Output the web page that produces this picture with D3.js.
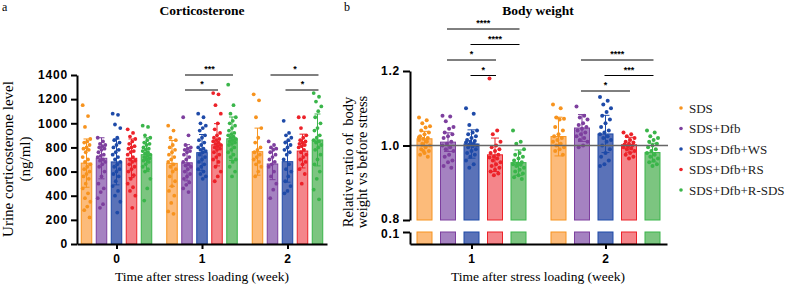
<!DOCTYPE html>
<html><head><meta charset="utf-8">
<script src="https://cdn.jsdelivr.net/npm/d3@7"></script>
<style>body{margin:0;background:#fff}svg{display:block}</style>
</head><body>
<svg id="c" width="788" height="285"></svg>
<script>
// ---------- DATA ----------
const series = ["SDS","SDS+Dfb","SDS+Dfb+WS","SDS+Dfb+RS","SDS+Dfb+R-SDS"];
const dotColors = ["#F7931E","#7D3F9E","#1E4AA8","#EC2229","#3AB54A"];
const barColors = ["#FCBB7A","#A582C1","#5A72B8","#F4858A","#7CC580"];

// Panel a: corticosterone
const weeksA = ["0","1","2"];
const corticoMean = [[670,710,680,710,740],[668,673,757,822,872],[765,663,682,770,862]];
const corticoSD   = [[200,170,190,160,140],[190,150,150,175,180],[195,130,170,140,215]];
const corticoTicks = [0,200,400,600,800,1000,1200,1400];
const corticoDots = [
 [[1150,1060,970,870,850,840,820,800,790,780,760,720,700,680,660,640,620,600,580,560,540,500,460,420,380,350,310,280,220],
  [880,850,830,820,810,800,790,780,760,740,730,720,700,690,680,660,640,600,560,500,460,430,380,330,300],
  [1080,1070,990,960,880,860,840,820,800,780,760,740,720,700,680,660,640,620,600,580,560,520,480,440,400,350,260],
  [950,920,890,870,850,830,810,800,790,770,760,740,720,700,690,680,660,640,620,600,570,540,500,470,440,400,300],
  [980,970,900,880,860,840,830,820,800,790,780,770,760,750,740,730,720,710,700,690,680,660,640,620,600,540,460,360]],
 [[980,940,880,860,820,800,780,760,740,720,700,680,660,640,620,600,560,520,480,440,400,340,270,250],
  [1050,900,820,800,790,780,770,760,740,720,700,680,660,650,640,620,600,580,560,540,510,490,460,430],
  [1080,1050,1000,980,960,940,900,880,860,840,820,800,790,780,770,760,740,720,700,680,660,640,620,600,580,560,540],
  [1250,1240,1150,1080,1000,950,920,900,880,870,860,850,840,830,820,810,800,790,780,760,740,720,700,680,640,600,560,520],
  [1320,1150,1080,1050,1020,1000,980,960,940,920,910,900,890,880,870,860,850,840,830,820,800,780,760,740,720,700,680,640,600,560]],
 [[1240,1190,1050,960,880,840,800,780,760,740,720,700,680,660,640,600,560],
  [850,820,800,790,780,760,740,720,700,680,660,640,600,560,500,450,380],
  [1020,920,900,880,860,840,820,800,780,760,740,700,660,620,600,560,520,480,440,420],
  [1050,1050,960,900,880,860,850,840,830,820,810,800,780,760,740,720,700,680,660,620,580,500],
  [1250,1220,1180,1140,1100,1050,1000,960,940,900,880,860,850,840,820,800,780,740,700,660,600,540,450,370]]
];
const sigA = [ // [week, fromSeries, toSeries, label, level]
 ["1",1,4,"***",0],["1",1,3,"*",1],["2",1,4,"*",0],["2",2,4,"*",1]
];

// Panel b: body weight
const weeksB = ["1","2"];
const bwMean = [[1.018,1.009,1.004,0.975,0.954],[1.024,1.047,1.031,1.002,0.981]];
const bwSD   = [[0.020,0.025,0.038,0.045,0.034],[0.052,0.036,0.050,0.020,0.025]];
const bwTicks = [0.8,1.0,1.2];
const bwLowTicks = [0.1];
const bwDots = [
 [[1.075,1.068,1.060,1.052,1.048,1.040,1.035,1.030,1.025,1.020,1.018,1.015,1.010,1.005,1.000,0.995,0.990,0.985,0.980,0.975,0.970,0.985,1.022,1.012],
  [1.080,1.078,1.065,1.050,1.045,1.035,1.030,1.025,1.020,1.010,1.005,1.000,0.995,0.990,0.985,0.975,0.970,0.960,0.955,0.945,0.940],
  [1.100,1.085,1.055,1.040,1.035,1.030,1.025,1.020,1.015,1.012,1.010,1.008,1.005,1.002,1.000,0.998,0.995,0.990,0.985,0.980,0.975,0.970,0.960,0.950,0.940],
  [1.180,1.040,1.030,1.010,1.000,0.995,0.990,0.985,0.980,0.975,0.970,0.968,0.965,0.960,0.955,0.950,0.945,0.940,0.935,0.930,0.925,0.920],
  [1.040,1.010,1.005,0.990,0.980,0.975,0.970,0.965,0.960,0.955,0.952,0.950,0.948,0.945,0.940,0.935,0.930,0.925,0.920,0.915,0.910]],
 [[1.110,1.100,1.075,1.072,1.070,1.050,1.040,1.030,1.025,1.020,1.015,1.010,1.005,1.000,0.995,0.990,0.985,0.975],
  [1.105,1.080,1.075,1.070,1.060,1.055,1.050,1.045,1.040,1.035,1.030,1.025,1.020,1.015,1.010,1.000,0.995],
  [1.130,1.120,1.110,1.100,1.090,1.080,1.070,1.060,1.050,1.040,1.035,1.030,1.025,1.020,1.015,1.010,1.000,0.990,0.980,0.970,0.960,0.950,0.945],
  [1.035,1.030,1.025,1.020,1.015,1.010,1.008,1.005,1.003,1.000,0.998,0.995,0.992,0.990,0.985,0.980,0.975,0.970,0.965],
  [1.040,1.035,1.025,1.020,1.015,1.010,1.005,1.000,0.995,0.990,0.985,0.980,0.975,0.970,0.965,0.960,0.955,0.950,0.945]]
];
const sigB = [
 ["1",1,4,"****",0],["1",2,4,"****",1],["1",1,3,"*",2],["1",2,3,"*",3],
 ["2",1,4,"****",2],["2",2,4,"***",3],["2",1,3,"*",4]
];

// ---------- DRAW ----------
const svg = d3.select("#c");
const serif = "'Liberation Serif','Times New Roman',serif";
const sans = "'Liberation Sans',Arial,sans-serif";

function jitter(i, half){ return (((i*7)%11)-5)/5*half; }

function styleAxis(g){
  g.selectAll("path.domain").attr("stroke","#000").attr("stroke-width",2);
  g.selectAll(".tick line").attr("stroke","#000").attr("stroke-width",2);
  g.selectAll(".tick text").attr("font-family",sans).attr("font-weight","bold")
   .attr("font-size",12).attr("fill","#000").attr("letter-spacing",0.8);
}

// ===== Panel a =====
{
  const x = d3.scalePoint().domain(weeksA).range([77,327]).padding(0.462);
  const sx = d3.scalePoint().domain(d3.range(5)).range([-30,30]);
  const y = d3.scaleLinear().domain([0,1400]).range([244,75]);
  const bw = 10.5;
  const g = svg.append("g");
  weeksA.forEach((w,wi)=>{
    series.forEach((s,si)=>{
      const cx = x(w)+sx(si);
      g.append("rect").attr("x",cx-bw/2).attr("width",bw)
       .attr("y",y(corticoMean[wi][si])).attr("height",y(0)-y(corticoMean[wi][si]))
       .attr("fill",barColors[si]).attr("stroke",dotColors[si]).attr("stroke-width",1);
      corticoDots[wi][si].forEach((v,i)=>{
        g.append("circle").attr("cx",cx+jitter(i,3.8)).attr("cy",y(v)).attr("r",1.9)
         .attr("fill",dotColors[si]);
      });
      const m=corticoMean[wi][si], sd=corticoSD[wi][si];
      g.append("line").attr("x1",cx).attr("x2",cx).attr("y1",y(m+sd)).attr("y2",y(Math.max(0,m-sd)))
       .attr("stroke",dotColors[si]).attr("stroke-width",1);
      [m+sd,m-sd].forEach(v=>g.append("line").attr("x1",cx-3).attr("x2",cx+3).attr("y1",y(v)).attr("y2",y(v))
        .attr("stroke",dotColors[si]).attr("stroke-width",1));
    });
  });
  const ya = svg.append("g").attr("transform","translate(77,0)")
    .call(d3.axisLeft(y).tickValues(corticoTicks).tickFormat(d3.format("d")).tickSize(6).tickSizeOuter(0).tickPadding(3));
  styleAxis(ya);
  const xa = svg.append("g").attr("transform","translate(0,244)")
    .call(d3.axisBottom(x).tickSize(5).tickSizeOuter(0).tickPadding(5));
  styleAxis(xa);
  sigA.forEach(([w,a,b,lab,lvl])=>{
    const yy = 75 + lvl*15;
    g.append("line").attr("x1",x(w)+sx(a)-2).attr("x2",x(w)+sx(b)+1).attr("y1",yy).attr("y2",yy)
     .attr("stroke","#000").attr("stroke-width",1);
    g.append("text").attr("x",(x(w)+sx(a)+x(w)+sx(b))/2).attr("y",yy-3).attr("text-anchor","middle")
     .attr("font-family",sans).attr("font-weight","bold").attr("font-size",9).text(lab);
  });
  svg.append("text").attr("x",202).attr("y",15).attr("text-anchor","middle").attr("font-family",serif)
    .attr("font-weight","bold").attr("font-size",13.5).text("Corticosterone");
  svg.append("text").attr("x",2).attr("y",11).attr("font-family",serif).attr("font-size",12).text("a");
  const lab = svg.append("g").attr("transform","translate(0,159) rotate(-90)")
    .attr("font-family",serif).attr("font-size",15).attr("text-anchor","middle");
  lab.append("text").attr("x",0).attr("y",13).text("Urine corticosterone level");
  lab.append("text").attr("x",0).attr("y",30).text("(ng/ml)");
  svg.append("text").attr("x",202).attr("y",281).attr("text-anchor","middle").attr("font-family",serif)
    .attr("font-size",13.5).text("Time after stress loading (week)");
}

// ===== Panel b =====
{
  const x = d3.scalePoint().domain(weeksB).range([410,667]).padding(0.459);
  const sx = d3.scalePoint().domain(d3.range(5)).range([-47,47]);
  const yU = d3.scaleLinear().domain([0.8,1.2]).range([220,71]);
  const yL = d3.scaleLinear().domain([0,0.1]).range([244,232]);
  const bw = 15;
  const g = svg.append("g");
  weeksB.forEach((w,wi)=>{
    series.forEach((s,si)=>{
      const cx = x(w)+sx(si);
      const m = bwMean[wi][si], sd = bwSD[wi][si];
      g.append("rect").attr("x",cx-bw/2).attr("width",bw).attr("y",yU(m)).attr("height",yU(0.8)-yU(m))
       .attr("fill",barColors[si]).attr("stroke",dotColors[si]).attr("stroke-width",1);
      g.append("rect").attr("x",cx-bw/2).attr("width",bw).attr("y",yL(0.1)).attr("height",yL(0)-yL(0.1))
       .attr("fill",barColors[si]).attr("stroke",dotColors[si]).attr("stroke-width",1);
      bwDots[wi][si].forEach((v,i)=>{
        g.append("circle").attr("cx",cx+jitter(i,5.5)).attr("cy",yU(v)).attr("r",2)
         .attr("fill",dotColors[si]);
      });
      g.append("line").attr("x1",cx).attr("x2",cx).attr("y1",yU(m+sd)).attr("y2",yU(m-sd))
       .attr("stroke",dotColors[si]).attr("stroke-width",1);
      [m+sd,m-sd].forEach(v=>g.append("line").attr("x1",cx-4).attr("x2",cx+4).attr("y1",yU(v)).attr("y2",yU(v))
        .attr("stroke",dotColors[si]).attr("stroke-width",1));
    });
  });
  g.append("line").attr("x1",410).attr("x2",668).attr("y1",yU(1)).attr("y2",yU(1))
   .attr("stroke","#666").attr("stroke-width",1.4);
  const ya = svg.append("g").attr("transform","translate(410,0)")
    .call(d3.axisLeft(yU).tickValues(bwTicks).tickFormat(d3.format(".1f")).tickSize(7).tickSizeOuter(0).tickPadding(3));
  styleAxis(ya);
  const yl = svg.append("g").attr("transform","translate(410,0)")
    .call(d3.axisLeft(yL).tickValues(bwLowTicks).tickFormat(d3.format(".1f")).tickSize(7).tickSizeOuter(0).tickPadding(3));
  styleAxis(yl);
  ya.selectAll(".tick text").filter(d=>d===0.8).attr("dy","0.2em");
  yl.selectAll(".tick text").attr("dy","0.45em");
  const xa = svg.append("g").attr("transform","translate(0,244)")
    .call(d3.axisBottom(x).tickSize(5).tickSizeOuter(0).tickPadding(5));
  styleAxis(xa);
  sigB.forEach(([w,a,b,lab,lvl])=>{
    const yy = 29 + lvl*15.5;
    g.append("line").attr("x1",x(w)+sx(a)-1).attr("x2",x(w)+sx(b)+1).attr("y1",yy).attr("y2",yy)
     .attr("stroke","#000").attr("stroke-width",1);
    g.append("text").attr("x",(x(w)+sx(a)+x(w)+sx(b))/2).attr("y",yy-3).attr("text-anchor","middle")
     .attr("font-family",sans).attr("font-weight","bold").attr("font-size",9).text(lab);
  });
  svg.append("text").attr("x",538).attr("y",15).attr("text-anchor","middle").attr("font-family",serif)
    .attr("font-weight","bold").attr("font-size",13.5).text("Body weight");
  svg.append("text").attr("x",344).attr("y",11).attr("font-family",serif).attr("font-size",12).text("b");
  const lab = svg.append("g").attr("transform","translate(0,162) rotate(-90)")
    .attr("font-family",serif).attr("font-size",14.5).attr("text-anchor","middle");
  lab.append("text").attr("x",0).attr("y",353).attr("xml:space","preserve").text("Relative ratio of  body");
  lab.append("text").attr("x",0).attr("y",367).text("weight vs before stress");
  svg.append("text").attr("x",538).attr("y",281).attr("text-anchor","middle").attr("font-family",serif)
    .attr("font-size",13.5).text("Time after stress loading (week)");

  // legend
  const leg = svg.append("g");
  series.forEach((s,si)=>{
    const yy = 108 + si*20.5;
    leg.append("circle").attr("cx",681).attr("cy",yy).attr("r",1.8).attr("fill",dotColors[si]);
    leg.append("text").attr("x",689).attr("y",yy).attr("dy","0.35em").attr("font-family",serif)
      .attr("font-size",13).attr("fill","#222").text(s);
  });
}
</script>
</body></html>
